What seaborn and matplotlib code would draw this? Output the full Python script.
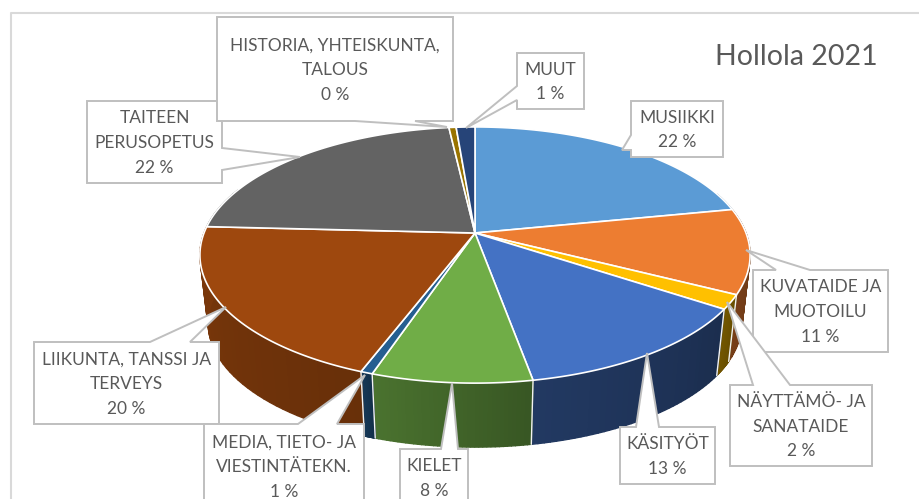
import matplotlib
matplotlib.use('Agg')
import matplotlib.pyplot as plt
import numpy as np
import seaborn as sns

names = ['MUSIIKKI', 'KUVATAIDE JA\nMUOTOILU', 'NÄYTTÄMÖ- JA\nSANATAIDE', 'KÄSITYÖT', 'KIELET',
         'MEDIA, TIETO- JA\nVIESTINTÄTEKN.', 'LIIKUNTA, TANSSI JA\nTERVEYS', 'TAITEEN\nPERUSOPETUS',
         'HISTORIA, YHTEISKUNTA,\nTALOUS', 'MUUT']
values = [21.9, 10.7, 1.8, 12.8, 8.0, 0.6, 20.1, 22.4, 0.5, 1.3]
hex_colors = ['#5B9BD5', '#ED7D31', '#FFC000', '#4472C4', '#70AD47',
              '#255E91', '#9E480E', '#636363', '#997300', '#264478']
side_light = [0.6, 0.5, 0.45, 0.5, 0.66, 0.6, 0.78, 0.6, 0.6, 0.6]
side_dark = [0.5, 0.42, 0.4, 0.4, 0.5, 0.5, 0.66, 0.5, 0.5, 0.5]

# callouts: box (x0, y0, x1, y1), side the pointer leaves from, pointer base, pointer tip
boxes = [(631, 101, 723, 157), (753, 270, 888, 352), (730, 385, 872, 466), (620, 427, 715, 484),
         (400, 449, 468, 506), (204, 424, 364, 508), (34, 342, 219, 424), (87, 101, 222, 183),
         (217, 17, 453, 121), (517, 53, 584, 109)]
sides = ['left', 'top', 'top', 'top', 'top', 'top', 'top', 'right', 'bottom', 'left']
bases = [(135, 150), (776, 810), (753, 790), (636, 659), (441, 458),
         (298, 337), (150, 190), (148, 170), (355, 415), (86, 100)]
tips = [(622, 150), (746, 250), (727, 302), (647, 353), (452, 383),
        (365, 375), (226, 307), (300, 157), (447, 127), (466, 128)]
draw_order = [0, 1, 2, 3, 4, 6, 5, 7, 8, 9]

# pie in perspective
cx, apex_y = 475, 233
half_w, half_h, tilt = 271, 124.3, 0.172
depth, bottom_scale = 68.5, 0.97

colors = sns.color_palette(hex_colors)
line_color = '#BFBFBF'
text_color = '#595959'


def project(theta, scale=1.0, drop=0.0):
    # theta runs clockwise from the top of the disc
    x, y = np.sin(theta), np.cos(theta)
    w = 1 + tilt * y
    return cx + scale * half_w * x / w, apex_y + drop - scale * half_h * y / w


sns.set_theme(style='white')
plt.rcParams['font.family'] = ['Lato', 'DejaVu Sans']

fig = plt.figure(figsize=(9.19, 4.99), dpi=100)
ax = fig.add_axes([0, 0, 1, 1])
ax.set_xlim(0, 919)
ax.set_ylim(499, 0)
ax.axis('off')

# chart frame
ax.plot([11, 11, 919], [499, 13, 13], color='#D9D9D9', lw=1.5, zorder=1)

edges = np.cumsum([0] + values) / sum(values) * 2 * np.pi

# side walls first, clockwise runs right to left along the front
for i in range(len(values)):
    t = np.linspace(edges[i], edges[i + 1], 40)
    for j in range(len(t) - 1):
        if np.cos(t[j]) > 0.35:
            continue
        f = side_dark[i] + (side_light[i] - side_dark[i]) * j / (len(t) - 2)
        shade = tuple(c * f for c in colors[i])
        x1, y1 = project(t[j:j + 2])
        x2, y2 = project(t[j:j + 2], bottom_scale, depth)
        ax.fill(np.r_[x1, x2[::-1]], np.r_[y1, y2[::-1]], color=shade, lw=1.0, zorder=2)

for e in edges:
    if np.cos(e) < -0.1:
        x1, y1 = project(e)
        x2, y2 = project(e, bottom_scale, depth)
        ax.plot([x1, x2], [y1, y2], color='#F2F2F2', lw=1.0, zorder=3)

# top surface
for i in range(len(values)):
    t = np.linspace(edges[i], edges[i + 1], 80)
    x, y = project(t)
    ax.fill(np.r_[cx, x], np.r_[apex_y, y], facecolor=colors[i], edgecolor='white', lw=1.2, zorder=4)

# callouts with their pointers
for i in draw_order:
    x0, y0, x1, y1 = boxes[i]
    a, b = bases[i]
    tip = tips[i]
    if sides[i] == 'top':
        pts = [(x0, y0), (a, y0), tip, (b, y0), (x1, y0), (x1, y1), (x0, y1)]
    elif sides[i] == 'bottom':
        pts = [(x0, y0), (x1, y0), (x1, y1), (b, y1), tip, (a, y1), (x0, y1)]
    elif sides[i] == 'left':
        pts = [(x0, y0), (x1, y0), (x1, y1), (x0, y1), (x0, b), tip, (x0, a)]
    else:
        pts = [(x0, y0), (x1, y0), (x1, a), tip, (x1, b), (x1, y1), (x0, y1)]
    px, py = zip(*pts)
    ax.fill(px, py, facecolor='white', edgecolor=line_color, lw=1.4, zorder=5 + draw_order.index(i))
    ax.text((x0 + x1) / 2, (y0 + y1) / 2 + 1, f'{names[i]}\n{round(values[i])} %', ha='center', va='center',
            fontsize=12.5, color=text_color, linespacing=1.68, zorder=5 + draw_order.index(i))

ax.text(796, 57, 'Hollola 2021', ha='center', va='center', fontsize=20.5, color=text_color, zorder=20)

fig.savefig('out.png', dpi=100)
